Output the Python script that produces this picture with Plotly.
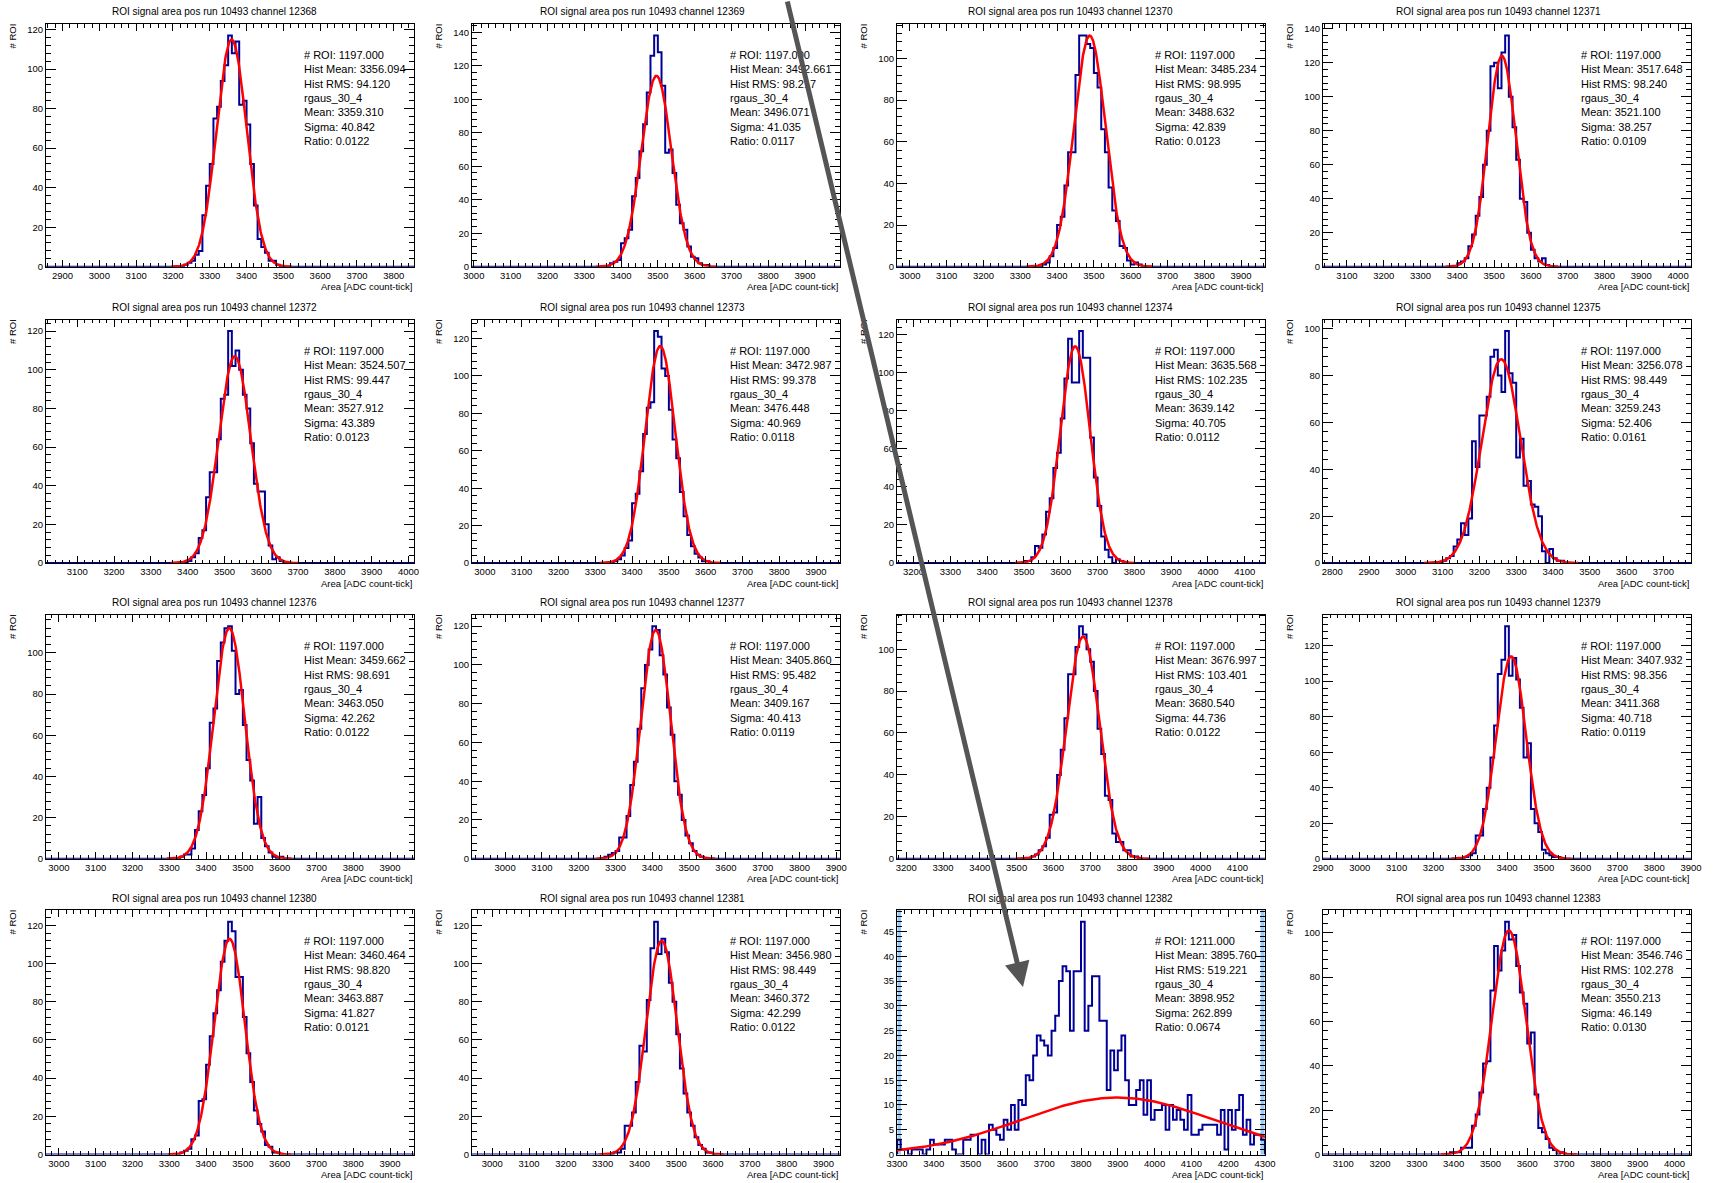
import numpy as np
import plotly.graph_objects as go

W, H = 1713, 1183
FONT = "Liberation Sans, Arial, Helvetica, sans-serif"
BIN = 10

channels = [12368, 12369, 12370, 12371, 12372, 12373, 12374, 12375,
            12376, 12377, 12378, 12379, 12380, 12381, 12382, 12383]

# first bin left edge of each histogram (bin width 10 ADC count-tick)
hist_lo = [3230, 3370, 3360, 3400, 3400, 3350, 3500, 3100,
           3330, 3270, 3540, 3285, 3330, 3330, 3300, 3390]

counts_12368 = [1, 2, 3, 6, 8, 26, 41, 52, 75, 81, 94, 102, 117, 108, 114, 82, 84, 72, 52, 31, 14, 10, 7, 3, 3, 1]
counts_12369 = [2, 3, 4, 14, 17, 22, 42, 53, 69, 85, 104, 126, 138, 128, 108, 68, 70, 56, 37, 26, 22, 12, 6, 5, 2, 1, 1]
counts_12370 = [1, 2, 5, 9, 20, 24, 39, 55, 55, 92, 111, 111, 107, 105, 93, 86, 66, 55, 38, 27, 22, 10, 9, 3, 1, 2, 1]
counts_12371 = [2, 3, 5, 12, 19, 30, 41, 60, 80, 118, 120, 105, 126, 136, 100, 82, 63, 40, 38, 20, 10, 5, 3, 5, 1]
counts_12372 = [1, 3, 5, 13, 17, 34, 47, 47, 64, 85, 87, 120, 102, 110, 100, 87, 80, 62, 41, 37, 37, 20, 9, 2, 3, 1]
counts_12373 = [1, 2, 4, 8, 12, 32, 37, 49, 69, 83, 86, 124, 121, 104, 100, 82, 66, 56, 38, 25, 15, 9, 5, 3, 1, 1]
counts_12374 = [1, 1, 3, 9, 8, 15, 27, 34, 50, 58, 76, 97, 118, 95, 95, 122, 108, 108, 66, 45, 30, 14, 7, 3, 0, 2, 1]
counts_12375 = [1, 2, 3, 7, 10, 17, 12, 19, 52, 41, 63, 63, 71, 88, 91, 80, 73, 99, 81, 77, 45, 53, 33, 35, 25, 24, 20, 5, 0, 6, 2, 1, 1]
counts_12376 = [1, 2, 2, 5, 14, 23, 31, 44, 66, 73, 96, 105, 112, 113, 101, 80, 82, 65, 48, 38, 17, 30, 10, 6, 3, 1, 0, 1]
counts_12377 = [1, 2, 3, 4, 11, 11, 22, 38, 50, 67, 88, 100, 108, 120, 118, 105, 95, 78, 64, 40, 33, 20, 12, 8, 4, 2, 1]
counts_12378 = [1, 2, 4, 6, 10, 21, 22, 40, 52, 67, 88, 88, 101, 111, 107, 100, 94, 80, 62, 50, 30, 28, 12, 8, 8, 4, 4, 1, 1]
counts_12379 = [1, 2, 3, 13, 13, 28, 40, 57, 75, 104, 112, 131, 103, 113, 101, 85, 57, 65, 28, 20, 15, 5, 3, 2, 1, 1]
counts_12380 = [1, 2, 3, 8, 10, 28, 29, 47, 62, 74, 86, 101, 112, 122, 117, 93, 93, 72, 53, 38, 23, 16, 12, 5, 4, 1, 1]
counts_12381 = [1, 1, 3, 15, 15, 22, 38, 57, 54, 81, 108, 122, 105, 113, 106, 90, 80, 63, 45, 32, 22, 15, 9, 5, 3, 1, 1]
counts_12382 = [3, 1, 1, 0, 1, 1, 1, 0, 1, 3,
                2, 2, 2, 3, 3, 1, 0, 0, 3, 3,
                4, 4, 0, 3, 0, 6, 5, 4, 3, 7,
                5, 10, 5, 11, 10, 16, 15, 20, 24, 23,
                22, 20, 25, 28, 35, 38, 37, 25, 37, 37,
                47, 25, 30, 36, 36, 27, 27, 13, 21, 17,
                21, 24, 15, 10, 10, 13, 15, 8, 15, 7,
                9, 9, 10, 5, 10, 7, 9, 7, 5, 12,
                4, 4, 5, 6, 6, 6, 6, 4, 9, 1,
                9, 5, 9, 12, 4, 7, 2, 4, 4, 3]
counts_12383 = [1, 1, 1, 3, 3, 3, 13, 18, 28, 41, 42, 74, 94, 83, 92, 105, 97, 99, 85, 73, 68, 50, 55, 27, 12, 10, 7, 3, 2, 0, 1]

all_counts = [counts_12368, counts_12369, counts_12370, counts_12371, counts_12372, counts_12373,
              counts_12374, counts_12375, counts_12376, counts_12377, counts_12378, counts_12379,
              counts_12380, counts_12381, counts_12382, counts_12383]

x_lo = [2855, 2995, 2965, 3035, 3015, 2965, 3155, 2775,
        2965, 2910, 3175, 2900, 2965, 2945, 3300, 3045]
x_hi = [3855, 3995, 3965, 4035, 4015, 3965, 4155, 3775,
        3965, 3910, 4175, 3900, 3965, 3945, 4300, 4045]

n_roi = [1197, 1197, 1197, 1197, 1197, 1197, 1197, 1197,
         1197, 1197, 1197, 1197, 1197, 1197, 1211, 1197]
hist_mean = [3356.094, 3492.661, 3485.234, 3517.648, 3524.507, 3472.987, 3635.568, 3256.078,
             3459.662, 3405.860, 3676.997, 3407.932, 3460.464, 3456.980, 3895.760, 3546.746]
hist_rms = [94.120, 98.217, 98.995, 98.240, 99.447, 99.378, 102.235, 98.449,
            98.691, 95.482, 103.401, 98.356, 98.820, 98.449, 519.221, 102.278]
fit_mean = [3359.310, 3496.071, 3488.632, 3521.100, 3527.912, 3476.448, 3639.142, 3259.243,
            3463.050, 3409.167, 3680.540, 3411.368, 3463.887, 3460.372, 3898.952, 3550.213]
fit_sigma = [40.842, 41.035, 42.839, 38.257, 43.389, 40.969, 40.705, 52.406,
             42.262, 40.413, 44.736, 40.718, 41.827, 42.299, 262.899, 46.149]
fit_ratio = [0.0122, 0.0117, 0.0123, 0.0109, 0.0123, 0.0118, 0.0112, 0.0161,
             0.0122, 0.0119, 0.0122, 0.0119, 0.0121, 0.0122, 0.0674, 0.0130]
fit_amp = [115, 114, 111, 124, 107, 116, 114, 87,
           112, 118, 106, 114, 113, 112, 11.5, 101]

# pixel geometry of the 4x4 pad grid
col_left = [46, 472, 897, 1323]
col_right = [414, 840, 1265, 1691]
row_top = [24, 319.5, 614.5, 910]
row_bot = [266.7, 563, 858.7, 1154.5]

HIST_COLOR = "#000099"
FIT_COLOR = "#ff0000"

fig = go.Figure()
layout = dict(width=W, height=H, autosize=False,
              margin=dict(l=0, r=0, t=0, b=0, pad=0, autoexpand=False),
              paper_bgcolor="white", plot_bgcolor="white", showlegend=False,
              font=dict(family=FONT, color="black"))
annotations = []
shapes = []

for i, ch in enumerate(channels):
    r, c = divmod(i, 4)
    n = i + 1
    xa = "xaxis" if n == 1 else f"xaxis{n}"
    ya = "yaxis" if n == 1 else f"yaxis{n}"
    xr = "x" if n == 1 else f"x{n}"
    yr = "y" if n == 1 else f"y{n}"
    L, R, T, B = col_left[c], col_right[c], row_top[r], row_bot[r]

    cnt = all_counts[i]
    lo = hist_lo[i]
    edges = [lo + BIN * k for k in range(len(cnt) + 1)]
    xs = [x_lo[i]] + edges + [x_hi[i]]
    ys = [0] + list(cnt) + [0, 0]
    fig.add_trace(go.Scatter(x=xs, y=ys, mode="lines", line=dict(color=HIST_COLOR, width=2, shape="hv"),
                             xaxis=xr, yaxis=yr, hoverinfo="skip"))

    m, s, a = fit_mean[i], fit_sigma[i], fit_amp[i]
    fx = np.linspace(max(x_lo[i], m - 4 * s), min(x_hi[i], m + 4 * s), 300)
    fy = a * np.exp(-0.5 * ((fx - m) / s) ** 2)
    fig.add_trace(go.Scatter(x=fx, y=fy, mode="lines", line=dict(color=FIT_COLOR, width=2.5),
                             xaxis=xr, yaxis=yr, hoverinfo="skip"))

    ymax = 1.05 * max(cnt)
    ydt = 5 if ymax < 60 else 20
    layout[xa] = dict(domain=[L / W, R / W], range=[x_lo[i], x_hi[i]], anchor=yr,
                      showline=True, linecolor="black", linewidth=1, mirror="allticks",
                      ticks="inside", ticklen=7, tickwidth=1, tickcolor="black",
                      tick0=0, dtick=100, showgrid=False, zeroline=False, automargin=False,
                      tickfont=dict(size=9.5, family=FONT, color="black"),
                      minor=dict(ticks="inside", ticklen=3.5, tick0=0, dtick=20,
                                 tickcolor="black", showgrid=False))
    layout[ya] = dict(domain=[1 - B / H, 1 - T / H], range=[0, ymax], anchor=xr,
                      showline=True, linecolor="black", linewidth=1, mirror="allticks",
                      ticks="inside", ticklen=10, tickwidth=1, tickcolor="black",
                      tick0=0, dtick=ydt, showgrid=False, zeroline=False, automargin=False,
                      tickfont=dict(size=9.5, family=FONT, color="black"),
                      minor=dict(ticks="inside", ticklen=5, tick0=0, dtick=ydt / 5,
                                 tickcolor="black", showgrid=False))

    # pad title
    annotations.append(dict(text=f"ROI signal area pos run 10493 channel {ch}",
                            x=(214 + 428.25 * c) / W, y=1 - (T - 12) / H, xref="paper", yref="paper",
                            xanchor="center", yanchor="middle", showarrow=False,
                            font=dict(size=10, family=FONT, color="black")))
    # x axis title
    annotations.append(dict(text="Area [ADC count-tick]", x=R / W, y=1 - (B + 20) / H,
                            xref="paper", yref="paper", xanchor="right", yanchor="middle",
                            showarrow=False, font=dict(size=9.5, family=FONT, color="black")))
    # y axis title
    annotations.append(dict(text="# ROI", x=(L - 34) / W, y=1 - (T - 2) / H,
                            xref="paper", yref="paper", xanchor="center", yanchor="top",
                            textangle=-90, showarrow=False,
                            font=dict(size=9.5, family=FONT, color="black")))
    # stats box
    stats = (f"# ROI: {n_roi[i]:.3f}<br>Hist Mean: {hist_mean[i]:.3f}<br>Hist RMS: {hist_rms[i]:.3f}"
             f"<br>rgaus_30_4<br>Mean: {fit_mean[i]:.3f}<br>Sigma: {fit_sigma[i]:.3f}<br>Ratio: {fit_ratio[i]:.4f}")
    annotations.append(dict(text=stats, x=(L + 256) / W, y=1 - (T + 23) / H, xref="paper", yref="paper",
                            xanchor="left", yanchor="top", align="left", showarrow=False,
                            font=dict(size=11, family=FONT, color="black")))

    if ch == 12382:
        for x0, x1 in [(L + 0.5, L + 4), (R - 4.5, R - 0.5)]:
            shapes.append(dict(type="rect", xref="paper", yref="paper", x0=x0 / W, x1=x1 / W,
                               y0=1 - B / H, y1=1 - T / H, fillcolor="#9cccf5", line=dict(width=0),
                               layer="below"))

# grey arrow overlay
annotations.append(dict(text="", x=1023 / W, y=1 - 987 / H, xref="paper", yref="paper",
                        ax=-236, ay=-987, showarrow=True, arrowhead=2, arrowsize=1,
                        arrowwidth=5, arrowcolor="#555555"))

layout["annotations"] = annotations
layout["shapes"] = shapes
fig.update_layout(**layout)
fig.write_html("out.html", config={"responsive": False, "displayModeBar": False},
               post_script="document.body.style.margin='0';document.body.style.overflow='hidden';")
